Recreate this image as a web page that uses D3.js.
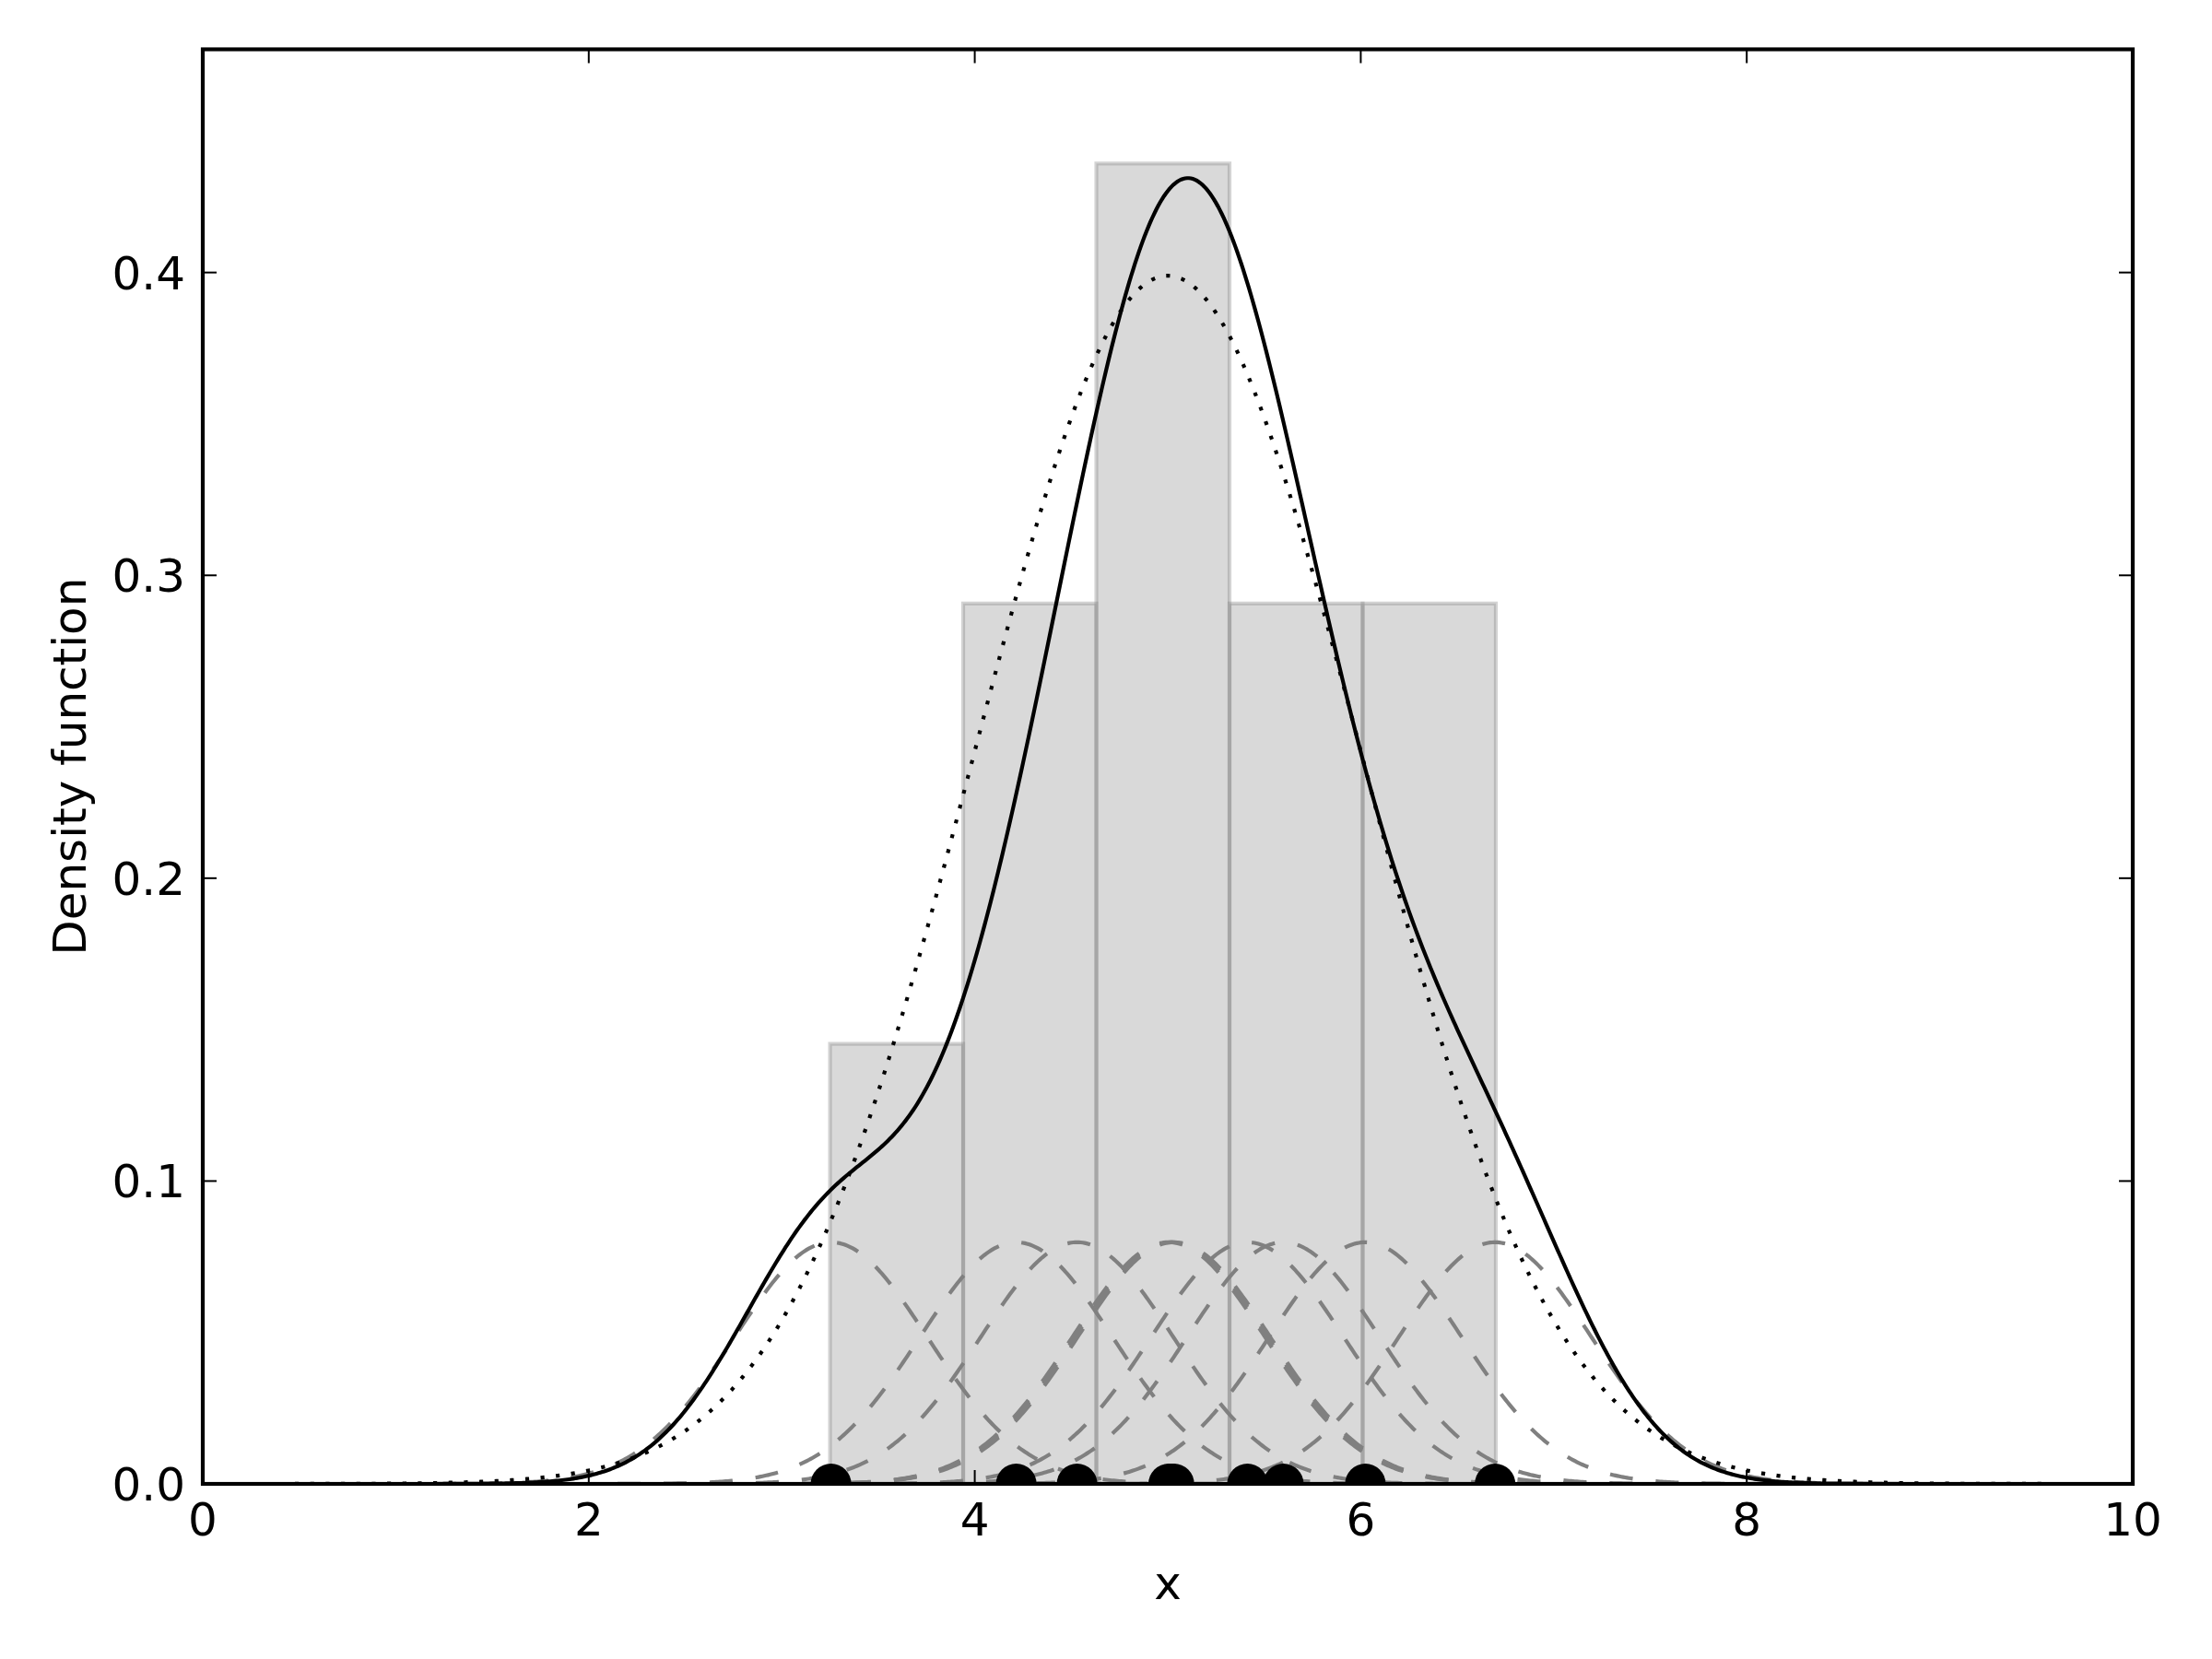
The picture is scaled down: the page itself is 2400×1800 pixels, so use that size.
<!DOCTYPE html>
<html>
<head>
<meta charset="utf-8">
<script src="https://cdn.jsdelivr.net/npm/d3@7"></script>
<style>
  html, body { margin: 0; padding: 0; background: #fff; }
  text { font-family: "DejaVu Sans", sans-serif; }
</style>
</head>
<body>
<svg id="chart" width="2400" height="1800"></svg>
<script>
// ---- data ----
const samplePoints = [3.255, 4.215, 4.530, 5.005, 5.018, 5.032, 5.413, 5.599, 6.024, 6.696];
const kernelBandwidth = 0.5;      // width of each dashed kernel
const kdeBandwidthFactor = 0.5;   // solid KDE: factor x sample std
const binEdges = [3.25, 3.94, 4.63, 5.32, 6.01, 6.70];
const binHeights = [0.1453, 0.2907, 0.4360, 0.2907, 0.2907];
const normalMean = 5;
const normalSd = 1;
const xTicks = [0, 2, 4, 6, 8, 10];
const yTicks = [0, 0.1, 0.2, 0.3, 0.4];
const xDomain = [0, 10];
const yDomain = [0, 0.4737];

(function () {
// ---- layout ----
const W = 2400, H = 1800;
const mLeft = 220, mRight = 2314, mTop = 53.5, mBottom = 1610;
const svg = d3.select("#chart");
svg.append("rect").attr("width", W).attr("height", H).attr("fill", "#fff");

const x = d3.scaleLinear().domain(xDomain).range([mLeft, mRight]);
const y = d3.scaleLinear().domain(yDomain).range([mBottom, mTop]);

svg.append("defs").append("clipPath").attr("id", "plotclip")
  .append("rect").attr("x", mLeft).attr("y", mTop).attr("width", mRight - mLeft).attr("height", mBottom - mTop);

const plot = svg.append("g").attr("clip-path", "url(#plotclip)");

// histogram bars
const bins = binHeights.map((h, i) => ({x0: binEdges[i], x1: binEdges[i + 1], h}));
plot.selectAll("rect.bar").data(bins).join("rect")
  .attr("class", "bar")
  .attr("x", d => x(d.x0))
  .attr("y", d => y(d.h))
  .attr("width", d => x(d.x1) - x(d.x0))
  .attr("height", d => y(0) - y(d.h))
  .attr("fill", "#808080").attr("fill-opacity", 0.3)
  .attr("stroke", "#808080").attr("stroke-opacity", 0.35)
  .attr("stroke-width", 4.17);

// curves
const n = samplePoints.length;
const gauss = (v, m, s) => Math.exp(-0.5 * ((v - m) / s) ** 2) / (s * Math.sqrt(2 * Math.PI));
const grid = d3.range(0, 1001).map(i => xDomain[0] + (xDomain[1] - xDomain[0]) * i / 1000);
const line = d3.line().x(d => x(d[0])).y(d => y(d[1]));

// individual kernels
samplePoints.forEach(p => {
  plot.append("path")
    .attr("d", line(grid.map(v => [v, gauss(v, p, kernelBandwidth) / n])))
    .attr("fill", "none").attr("stroke", "#808080").attr("stroke-width", 4.17)
    .attr("stroke-dasharray", "25,25");
});

// KDE
const kdeH = kdeBandwidthFactor * d3.deviation(samplePoints);
plot.append("path")
  .attr("d", line(grid.map(v => [v, d3.sum(samplePoints, p => gauss(v, p, kdeH)) / n])))
  .attr("fill", "none").attr("stroke", "#000").attr("stroke-width", 4.17);

// normal pdf (dotted)
plot.append("path")
  .attr("d", line(grid.map(v => [v, gauss(v, normalMean, normalSd)])))
  .attr("fill", "none").attr("stroke", "#000").attr("stroke-width", 4.17)
  .attr("stroke-dasharray", "4.17,12.5");

// sample points
plot.selectAll("circle.pt").data(samplePoints).join("circle")
  .attr("class", "pt")
  .attr("cx", d => x(d)).attr("cy", y(0)).attr("r", 22)
  .attr("fill", "#000");

// ticks (inward, all sides)
const tickLen = 15;
const tg = svg.append("g").attr("stroke", "#000").attr("stroke-width", 2);
xTicks.forEach(t => {
  tg.append("line").attr("x1", x(t)).attr("x2", x(t)).attr("y1", mBottom).attr("y2", mBottom - tickLen);
  tg.append("line").attr("x1", x(t)).attr("x2", x(t)).attr("y1", mTop).attr("y2", mTop + tickLen);
});
yTicks.forEach(t => {
  tg.append("line").attr("x1", mLeft).attr("x2", mLeft + tickLen).attr("y1", y(t)).attr("y2", y(t));
  tg.append("line").attr("x1", mRight).attr("x2", mRight - tickLen).attr("y1", y(t)).attr("y2", y(t));
});

// tick labels
svg.selectAll("text.xt").data(xTicks).join("text")
  .attr("class", "xt")
  .attr("x", d => x(d)).attr("y", 1666)
  .attr("text-anchor", "middle").attr("font-size", 50).attr("fill", "#000")
  .text(d => d3.format("d")(d));
svg.selectAll("text.yt").data(yTicks).join("text")
  .attr("class", "yt")
  .attr("x", 201).attr("y", d => y(d) + 18)
  .attr("text-anchor", "end").attr("font-size", 50).attr("fill", "#000")
  .text(d => d3.format(".1f")(d));

// spines
svg.append("rect").attr("x", mLeft).attr("y", mTop).attr("width", mRight - mLeft).attr("height", mBottom - mTop)
  .attr("fill", "none").attr("stroke", "#000").attr("stroke-width", 4.17);

// axis labels
svg.append("text").attr("x", (mLeft + mRight) / 2).attr("y", 1735)
  .attr("text-anchor", "middle").attr("font-size", 50).attr("fill", "#000").text("x");
svg.append("text").attr("transform", `translate(93,${(mTop + mBottom) / 2}) rotate(-90)`)
  .attr("text-anchor", "middle").attr("font-size", 50).attr("fill", "#000").text("Density function");
})();
</script>
</body>
</html>
